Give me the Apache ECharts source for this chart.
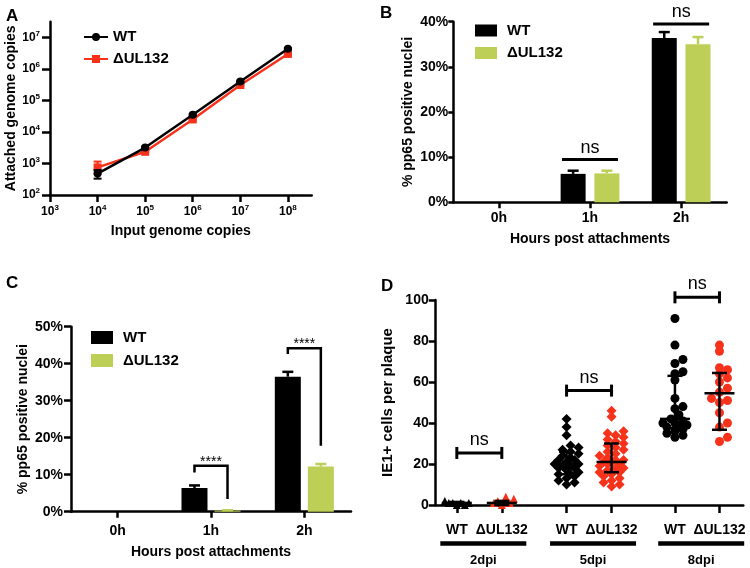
<!DOCTYPE html>
<html><head><meta charset="utf-8">
<script src="https://cdn.jsdelivr.net/npm/echarts@6/dist/echarts.min.js"></script>
<style>html,body{margin:0;padding:0;background:#fff}#c{width:750px;height:568px}</style>
</head><body><div id="c"></div>
<script>
const FONT = '"Liberation Sans", Arial, Helvetica, sans-serif';

// ---------- Panel A data ----------
const aInput   = [1e4, 1e5, 1e6, 1e7, 1e8];
const aWT      = [480, 3200, 35000, 4.0e5, 4.4e6];
const aWTLow   = [330, 2950, 32500, 3.75e5, 4.15e6];
const aWTHigh  = [620, 3450, 37500, 4.25e5, 4.65e6];
const aKO      = [750, 2350, 25000, 3.1e5, 3.0e6];
const aKOLow   = [470, 2200, 23500, 2.95e5, 2.85e6];
const aKOHigh  = [1150, 2500, 26500, 3.25e5, 3.15e6];
const aXTickExp = [3, 4, 5, 6, 7, 8];
const aYTickExp = [2, 3, 4, 5, 6, 7];

// ---------- Panel B data ----------
const hours   = ['0h', '1h', '2h'];
const bWT     = [0, 6.3, 36.4];
const bWTErr  = [0, 0.7, 1.3];
const bKO     = [0, 6.4, 35.0];
const bKOErr  = [0, 0.6, 1.6];
const bSigText = ['', 'ns', 'ns'];
const bSigY    = [null, 9.5, 39.5];

// ---------- Panel C data ----------
const cWT     = [0, 6.4, 36.5];
const cWTErr  = [0, 0.7, 1.3];
const cKO     = [0, 0.3, 12.2];
const cKOErr  = [0, 0.1, 0.7];
const cSigText = ['', '****', '****'];
const cSigY     = [null, 12.4, 44.2];
const cSigLeft  = [null, 10.6, 42.6];
const cSigRight = [null, 3.4, 17.8];

// ---------- Panel D data ----------
const dGroups  = ['2dpi', '5dpi', '8dpi'];
const dStrains = ['WT', 'ΔUL132'];
const dWT2 = [0, 0, 1, 1, 1, 1, 2];
const dKO2 = [0, 1, 1, 1, 2, 3, 4];
const dWT5 = [42, 38, 34, 29, 28, 27, 26, 25, 24, 23, 22, 22, 21, 20, 20, 19, 19, 18, 18, 17, 16, 15, 15, 14, 13, 12, 11, 10];
const dKO5 = [46, 43, 36, 35, 34, 33, 32, 31, 30, 29, 28, 27, 26, 25, 24, 23, 22, 22, 21, 21, 20, 20, 19, 18, 18, 17, 16, 16, 15, 14, 13, 12, 11, 10, 9];
const dWT8 = [91, 78, 71, 69, 65, 64, 61, 52, 48, 47, 44, 42, 41, 40, 40, 39, 38, 38, 37, 36, 35, 34, 33];
const dKO8 = [78, 75, 67, 66, 64, 62, 60, 57, 55, 52, 51, 50, 45, 40, 38, 33, 31];
const dMid  = [1, 1, 20, 21, 42, 54.5];
const dLow  = [0, 0, 15, 16, 37.5, 36.7];
const dHigh = [1.5, 2, 26, 30, 63, 64.4];
const dSigText = ['ns', 'ns', 'ns'];
const dSigY    = [25.4, 55.8, 101.3];

// ---------- layout (not data) ----------
const gA = {left: 50, top: 21.7, width: 261.7, height: 173.3};
const gB = {left: 453.3, top: 21.7, width: 273.4, height: 180.6};
const gC = {left: 71, top: 326.7, width: 280, height: 185};
const gD = {left: 435.7, top: 300, width: 307.6, height: 205};
const dXMax = 6.84;
const dPosWT = [0.47, 2.91, 5.32];
const dPosKO = [1.47, 3.91, 6.31];
const dAllPos = [dPosWT[0], dPosKO[0], dPosWT[1], dPosKO[1], dPosWT[2], dPosKO[2]];

const BLACK = '#000000', RED = '#f7321b', GREEN = '#bdcf56';

// superscript labels
const supRich = {
  b: {fontSize: 12, fontWeight: 'bold', fontFamily: FONT, color: '#000', lineHeight: 16},
  s: {fontSize: 8, fontWeight: 'bold', fontFamily: FONT, color: '#000', lineHeight: 8, verticalAlign: 'top'}
};
const supFmt = v => '{b|10}{s|' + v + '}';

const axLine = {show: true, lineStyle: {color: '#000', width: 2.5}};
const tick = (len, extra) => Object.assign({show: true, length: len, lineStyle: {color: '#000', width: 2.5}}, extra || {});
const lab = (size, margin, extra) => Object.assign({color: '#000', fontFamily: FONT, fontWeight: 'bold', fontSize: size, margin: margin}, extra || {});
const nameTS = {color: '#000', fontFamily: FONT, fontWeight: 'bold', fontSize: 14};

// beeswarm layout for panel D (pixel-based, limited width)
const dXScale = gD.width / dXMax;
const dYScale = gD.height / 100;
function swarm(values, center, diam, step, maxOff) {
  const placed = [];
  const sorted = values.slice().sort((a, b) => a - b);
  return sorted.map(v => {
    const py = v * dYScale;
    let best = 0, bestD = -1;
    const nMax = Math.floor(maxOff / step);
    for (let k = 0; k <= 2 * nMax; k++) {
      const off = k === 0 ? 0 : (k % 2 ? 1 : -1) * Math.ceil(k / 2) * step;
      const md = placed.reduce((m, p) => Math.min(m, Math.hypot(p[0] - off, p[1] - py)), Infinity);
      if (md >= diam) { best = off; bestD = md; break; }
      if (md > bestD) { bestD = md; best = off; }
    }
    placed.push([best, py]);
    return [center + best / dXScale, v];
  });
}

// render helpers
function xyErrRender(capW) {
  return function (params, api) {
    const x = api.value(0), lo = api.value(1), hi = api.value(2);
    const p1 = api.coord([x, lo]), p2 = api.coord([x, hi]);
    const col = api.visual('color');
    const st = {stroke: col, lineWidth: 2};
    return {type: 'group', children: [
      {type: 'line', shape: {x1: p1[0], y1: p1[1], x2: p2[0], y2: p2[1]}, style: st},
      {type: 'line', shape: {x1: p1[0] - capW / 2, y1: p1[1], x2: p1[0] + capW / 2, y2: p1[1]}, style: st},
      {type: 'line', shape: {x1: p2[0] - capW / 2, y1: p2[1], x2: p2[0] + capW / 2, y2: p2[1]}, style: st}
    ]};
  };
}
function barErrRender(sign, barW, gap) {
  return function (params, api) {
    const idx = api.value(0), v = api.value(1), e = api.value(2);
    if (!(e > 0)) return;
    const off = sign * barW * (1 + gap) / 2;
    const p0 = api.coord([idx, v]), p1 = api.coord([idx, v + e]);
    const x = p0[0] + off, col = api.visual('color');
    const st = {stroke: col, lineWidth: 2.5};
    return {type: 'group', children: [
      {type: 'line', shape: {x1: x, y1: p0[1], x2: x, y2: p1[1]}, style: st},
      {type: 'line', shape: {x1: x - 5.5, y1: p1[1], x2: x + 5.5, y2: p1[1]}, style: st}
    ]};
  };
}

const series = [];
// ----- A -----
series.push({
  name: 'ΔUL132|A', type: 'line', xAxisIndex: 0, yAxisIndex: 0, z: 3,
  data: aInput.map((x, i) => [Math.log10(x), Math.log10(aKO[i])]),
  symbol: 'rect', symbolSize: 8, lineStyle: {color: RED, width: 2.5}, itemStyle: {color: RED}
});
series.push({
  name: 'WT|A', type: 'line', xAxisIndex: 0, yAxisIndex: 0, z: 4,
  data: aInput.map((x, i) => [Math.log10(x), Math.log10(aWT[i])]),
  symbol: 'circle', symbolSize: 8, lineStyle: {color: BLACK, width: 2.5}, itemStyle: {color: BLACK}
});
series.push({
  type: 'custom', xAxisIndex: 0, yAxisIndex: 0, z: 3, itemStyle: {color: RED},
  renderItem: xyErrRender(8), encode: {x: 0, y: [1, 2]},
  data: aInput.map((x, i) => [Math.log10(x), Math.log10(aKOLow[i]), Math.log10(aKOHigh[i])])
});
series.push({
  type: 'custom', xAxisIndex: 0, yAxisIndex: 0, z: 4, itemStyle: {color: BLACK},
  renderItem: xyErrRender(8), encode: {x: 0, y: [1, 2]},
  data: aInput.map((x, i) => [Math.log10(x), Math.log10(aWTLow[i]), Math.log10(aWTHigh[i])])
});

// ----- B -----
const bBarW = 25, bGap = 0.35;
series.push({name: 'WT|B', type: 'bar', xAxisIndex: 1, yAxisIndex: 1, data: bWT, barWidth: bBarW, barGap: '35%', itemStyle: {color: BLACK}});
series.push({name: 'ΔUL132|B', type: 'bar', xAxisIndex: 1, yAxisIndex: 1, data: bKO, barWidth: bBarW, barGap: '35%', itemStyle: {color: GREEN}});
series.push({type: 'custom', xAxisIndex: 1, yAxisIndex: 1, itemStyle: {color: BLACK}, encode: {x: 0, y: 1},
  renderItem: barErrRender(-1, bBarW, bGap), data: hours.map((h, i) => [i, bWT[i], bWTErr[i]])});
series.push({type: 'custom', xAxisIndex: 1, yAxisIndex: 1, itemStyle: {color: GREEN}, encode: {x: 0, y: 1},
  renderItem: barErrRender(1, bBarW, bGap), data: hours.map((h, i) => [i, bKO[i], bKOErr[i]])});
series.push({type: 'custom', xAxisIndex: 1, yAxisIndex: 1, clip: false, encode: {x: 0, y: 1},
  data: hours.map((h, i) => [i, bSigY[i] == null ? 0 : bSigY[i], i]).filter((d, i) => bSigY[i] != null),
  renderItem: function (params, api) {
    const p = api.coord([api.value(0), api.value(1)]);
    const t = bSigText[api.value(2)];
    return {type: 'group', children: [
      {type: 'line', shape: {x1: p[0] - 28, y1: p[1], x2: p[0] + 28, y2: p[1]}, style: {stroke: '#000', lineWidth: 3}},
      {type: 'text', style: {text: t, x: p[0], y: p[1] - 2.5, align: 'center', verticalAlign: 'bottom', fontSize: 18, fontFamily: FONT, fill: '#000'}}
    ]};
  }});

// ----- C -----
const cBarW = 26, cGap = 0.27;
series.push({name: 'WT|C', type: 'bar', xAxisIndex: 2, yAxisIndex: 2, data: cWT, barWidth: cBarW, barGap: '27%', itemStyle: {color: BLACK}});
series.push({name: 'ΔUL132|C', type: 'bar', xAxisIndex: 2, yAxisIndex: 2, data: cKO, barWidth: cBarW, barGap: '27%', itemStyle: {color: GREEN}});
series.push({type: 'custom', xAxisIndex: 2, yAxisIndex: 2, itemStyle: {color: BLACK}, encode: {x: 0, y: 1},
  renderItem: barErrRender(-1, cBarW, cGap), data: hours.map((h, i) => [i, cWT[i], cWTErr[i]])});
series.push({type: 'custom', xAxisIndex: 2, yAxisIndex: 2, itemStyle: {color: GREEN}, encode: {x: 0, y: 1},
  renderItem: barErrRender(1, cBarW, cGap), data: hours.map((h, i) => [i, cKO[i], cKOErr[i]])});
series.push({type: 'custom', xAxisIndex: 2, yAxisIndex: 2, clip: false, encode: {x: 0, y: 1},
  data: hours.map((h, i) => [i, cSigY[i], cSigLeft[i], cSigRight[i]]).filter((d, i) => cSigY[i] != null),
  renderItem: function (params, api) {
    const idx = api.value(0);
    const off = cBarW * (1 + cGap) / 2;
    const pt = api.coord([idx, api.value(1)]);
    const yl = api.coord([idx, api.value(2)])[1], yr = api.coord([idx, api.value(3)])[1];
    const xl = pt[0] - off, xr = pt[0] + off;
    return {type: 'group', children: [
      {type: 'polyline', shape: {points: [[xl, yl], [xl, pt[1]], [xr, pt[1]], [xr, yr]]}, style: {stroke: '#000', lineWidth: 2.5, fill: 'none'}},
      {type: 'text', style: {text: cSigText[idx], x: pt[0], y: pt[1] - 4, align: 'center', verticalAlign: 'middle', fontSize: 14, fontFamily: FONT, fill: '#000'}}
    ]};
  }});

// ----- D -----
const dSets = [
  {d: dWT2, pos: dPosWT[0], col: BLACK, sym: 'triangle', size: 8},
  {d: dKO2, pos: dPosKO[0], col: RED, sym: 'triangle', size: 8},
  {d: dWT5, pos: dPosWT[1], col: BLACK, sym: 'diamond', size: 10},
  {d: dKO5, pos: dPosKO[1], col: RED, sym: 'diamond', size: 10},
  {d: dWT8, pos: dPosWT[2], col: BLACK, sym: 'circle', size: 9},
  {d: dKO8, pos: dPosKO[2], col: RED, sym: 'circle', size: 9}
];
dSets.forEach(s => {
  series.push({type: 'scatter', xAxisIndex: 3, yAxisIndex: 3, symbol: s.sym, symbolSize: s.size,
    itemStyle: {color: s.col, opacity: 1}, data: swarm(s.d, s.pos, 6, 4, 12), z: 2});
});
series.push({type: 'custom', xAxisIndex: 3, yAxisIndex: 3, z: 5, clip: false, encode: {x: 0, y: 1},
  data: dAllPos.map((p, i) => [p, dMid[i], dLow[i], dHigh[i]]),
  renderItem: function (params, api) {
    const x = api.value(0);
    const pm = api.coord([x, api.value(1)]), pl = api.coord([x, api.value(2)]), ph = api.coord([x, api.value(3)]);
    const st = {stroke: '#000', lineWidth: 2.5};
    return {type: 'group', children: [
      {type: 'line', shape: {x1: pl[0], y1: pl[1], x2: ph[0], y2: ph[1]}, style: st},
      {type: 'line', shape: {x1: pm[0] - 15, y1: pm[1], x2: pm[0] + 15, y2: pm[1]}, style: st},
      {type: 'line', shape: {x1: pl[0] - 7.5, y1: pl[1], x2: pl[0] + 7.5, y2: pl[1]}, style: st},
      {type: 'line', shape: {x1: ph[0] - 7.5, y1: ph[1], x2: ph[0] + 7.5, y2: ph[1]}, style: st}
    ]};
  }});
series.push({type: 'custom', xAxisIndex: 3, yAxisIndex: 3, z: 5, clip: false, encode: {x: 0, y: 1},
  data: dGroups.map((g, i) => [dPosWT[i], dSigY[i], dPosKO[i], i]),
  renderItem: function (params, api) {
    const p1 = api.coord([api.value(0), api.value(1)]), p2 = api.coord([api.value(2), api.value(1)]);
    const st = {stroke: '#000', lineWidth: 3};
    const cx = (p1[0] + p2[0]) / 2;
    return {type: 'group', children: [
      {type: 'line', shape: {x1: p1[0], y1: p1[1], x2: p2[0], y2: p2[1]}, style: st},
      {type: 'line', shape: {x1: p1[0], y1: p1[1] - 6, x2: p1[0], y2: p1[1] + 6}, style: st},
      {type: 'line', shape: {x1: p2[0], y1: p2[1] - 6, x2: p2[0], y2: p2[1] + 6}, style: st},
      {type: 'text', style: {text: dSigText[api.value(3)], x: cx, y: p1[1] - 4, align: 'center', verticalAlign: 'bottom', fontSize: 18, fontFamily: FONT, fill: '#000'}}
    ]};
  }});
series.push({type: 'custom', xAxisIndex: 3, yAxisIndex: 3, z: 5, clip: false, encode: {x: 0, y: 1},
  data: dGroups.map((g, i) => [(dPosWT[i] + dPosKO[i]) / 2, 0, i]),
  renderItem: function (params, api) {
    const p = api.coord([api.value(0), api.value(1)]);
    const cx = p[0] + 4;
    return {type: 'group', children: [
      {type: 'line', shape: {x1: cx - 43, y1: p[1] + 38.5, x2: cx + 43, y2: p[1] + 38.5}, style: {stroke: '#000', lineWidth: 4.5}},
      {type: 'text', style: {text: dGroups[api.value(2)], x: cx, y: p[1] + 55, align: 'center', verticalAlign: 'middle', fontSize: 13, fontWeight: 'bold', fontFamily: FONT, fill: '#000'}}
    ]};
  }});

const legendCommon = {orient: 'vertical', selectedMode: false, formatter: n => n.split('|')[0],
  textStyle: {color: '#000', fontFamily: FONT, fontWeight: 'bold', fontSize: 15, lineHeight: 16}};

const option = {
  animation: false,
  backgroundColor: '#fff',
  textStyle: {fontFamily: FONT},
  title: [
    {text: 'A', left: 1, top: 3, textStyle: {fontSize: 17, fontWeight: 'bold', color: '#000', fontFamily: FONT}},
    {text: 'B', left: 375, top: 0, textStyle: {fontSize: 17, fontWeight: 'bold', color: '#000', fontFamily: FONT}},
    {text: 'C', left: 1, top: 270, textStyle: {fontSize: 17, fontWeight: 'bold', color: '#000', fontFamily: FONT}},
    {text: 'D', left: 376, top: 273, textStyle: {fontSize: 17, fontWeight: 'bold', color: '#000', fontFamily: FONT}}
  ],
  legend: [
    Object.assign({}, legendCommon, {left: 78, top: 24, itemWidth: 24, itemHeight: 10, itemGap: 6,
      data: ['WT|A', 'ΔUL132|A']}),
    Object.assign({}, legendCommon, {left: 470, top: 17.5, itemWidth: 22, itemHeight: 12, itemGap: 6.5, icon: 'rect',
      textStyle: Object.assign({}, legendCommon.textStyle, {padding: [0, 0, 0, 5]}),
      data: ['WT|B', 'ΔUL132|B']}),
    Object.assign({}, legendCommon, {left: 86, top: 324.5, itemWidth: 22, itemHeight: 13, itemGap: 7, icon: 'rect',
      textStyle: Object.assign({}, legendCommon.textStyle, {padding: [0, 0, 0, 5]}),
      data: ['WT|C', 'ΔUL132|C']})
  ],
  grid: [gA, gB, gC, gD],
  xAxis: [
    {gridIndex: 0, type: 'value', min: 3, max: 8.5, splitLine: {show: false}, axisLine: axLine,
      axisTick: tick(7, {customValues: aXTickExp}),
      axisLabel: {customValues: aXTickExp, formatter: supFmt, rich: supRich, margin: 9},
      name: 'Input genome copies', nameLocation: 'middle', nameGap: 29, nameTextStyle: nameTS},
    {gridIndex: 1, type: 'category', data: hours, axisLine: axLine, axisTick: tick(6, {alignWithLabel: true}),
      axisLabel: lab(14, 9), name: 'Hours post attachments', nameLocation: 'middle', nameGap: 30, nameTextStyle: nameTS},
    {gridIndex: 2, type: 'category', data: hours, axisLine: axLine, axisTick: tick(6, {alignWithLabel: true}),
      axisLabel: lab(14, 12), name: 'Hours post attachments', nameLocation: 'middle', nameGap: 33, nameTextStyle: nameTS},
    {gridIndex: 3, type: 'value', min: 0, max: dXMax, splitLine: {show: false}, axisLine: axLine,
      axisTick: tick(8, {customValues: dAllPos}),
      axisLabel: lab(14, 18, {customValues: dAllPos, formatter: v => {
        const i = dAllPos.findIndex(p => Math.abs(p - v) < 1e-6);
        return i < 0 ? '' : dStrains[i % 2];
      }})}
  ],
  yAxis: [
    {gridIndex: 0, type: 'value', min: 2, max: 7.5, splitLine: {show: false}, axisLine: axLine,
      axisTick: tick(8, {customValues: aYTickExp}),
      axisLabel: {customValues: aYTickExp, formatter: supFmt, rich: supRich, margin: 10},
      name: 'Attached genome copies', nameLocation: 'middle', nameGap: 30, nameTextStyle: nameTS},
    {gridIndex: 1, type: 'value', min: 0, max: 40, interval: 10, splitLine: {show: false}, axisLine: axLine,
      axisTick: tick(5), axisLabel: lab(14, 5, {formatter: '{value}%'}),
      name: '% pp65 positive nuclei', nameLocation: 'middle', nameGap: 38, nameTextStyle: nameTS},
    {gridIndex: 2, type: 'value', min: 0, max: 50, interval: 10, splitLine: {show: false}, axisLine: axLine,
      axisTick: tick(7), axisLabel: lab(14, 8, {formatter: '{value}%'}),
      name: '% pp65 positive nuclei', nameLocation: 'middle', nameGap: 41, nameTextStyle: nameTS},
    {gridIndex: 3, type: 'value', min: 0, max: 100, interval: 20, splitLine: {show: false}, axisLine: axLine,
      axisTick: tick(7), axisLabel: lab(14, 7),
      name: 'IE1+ cells per plaque', nameLocation: 'middle', nameGap: 40, nameTextStyle: Object.assign({}, nameTS, {fontSize: 15})}
  ],
  series: series
};

const chart = echarts.init(document.getElementById('c'), null, {renderer: 'canvas', width: 750, height: 568});
chart.setOption(option);
</script>
</body></html>
